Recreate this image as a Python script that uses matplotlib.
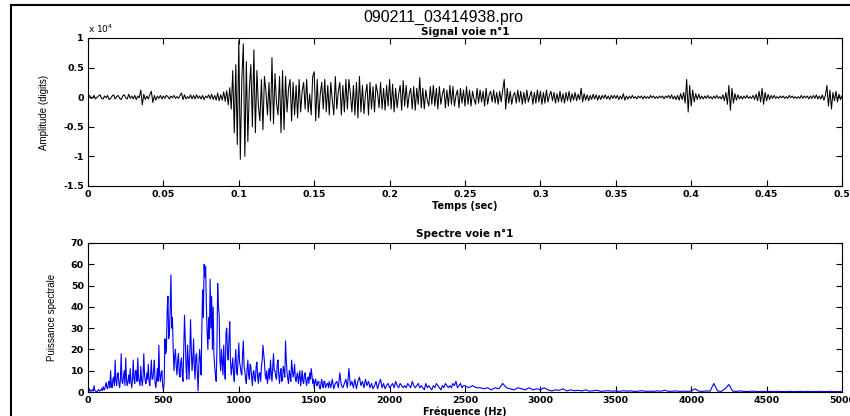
import numpy as np
import matplotlib
matplotlib.use("Agg")
import matplotlib.pyplot as plt
from matplotlib.ticker import FuncFormatter
from matplotlib.lines import Line2D

# signal, 1 ms per sample, in hundreds of digits (1 unit = 100 digits)
signal_units = [
    1, 3, -2, -1, 3, -3, 0, 2, 4, -2,
    -3, 2, -1, 3, -4, -2, 2, 4, -3, 1,
    3, -2, -4, 2, 4, -1, -3, 5, -2, 2,
    -3, 3, -4, 2, -1, 12, -13, 5, -4, 2,
    -3, 4, 10, -9, 3, -5, 2, -2, 3, -3,
    2, -2, 3, 1, -3, 2, -1, 3, -2, 1,
    -2, 3, 7, -4, 4, -3, 1, -2, 4, -3,
    3, -3, 4, -2, 2, -3, 3, -4, 2, -1,
    4, -3, 5, -4, 3, -5, 7, -6, 4, -5,
    9, -7, 11, -13, 16, -20, 45, -60, 55, -80,
    95, -105, 30, 90, -100, 60, -75, 15, 55, -50,
    80, -60, 45, -15, -40, 30, -55, 35, 10, -30,
    25, -40, 67, -45, 40, -10, -30, 35, -60, 45,
    -55, 35, -25, 15, 30, -40, 25, -30, 20, -35,
    30, -25, 10, 25, -20, 30, -25, 5, -30, 35,
    43, -40, 30, -35, 5, 25, -20, 30, -25, 20,
    -30, 25, -5, -30, 35, -20, 10, 25, -30, 20,
    -25, 30, -20, 30, 5, -25, 20, -30, 25, -35,
    35, -25, 20, -28, 5, 22, -30, 25, -20, 18,
    -25, 22, 8, -18, 25, -20, 15, -22, 20, -15,
    30, -20, 22, -25, 15, -18, 5, 20, -22, 28,
    -15, 20, -18, 5, 15, -20, 18, -22, 15, -12,
    33, -18, 15, -20, 12, -5, -15, 18, -12, 20,
    -15, 15, -20, 18, -12, 5, 15, -18, 12, -15,
    20, -12, 18, -15, 3, 12, -18, 15, -10, 12,
    -15, 18, -12, 12, -15, 10, -3, -12, 15, -10,
    12, -8, 10, -15, 15, -12, 4, 10, -8, 12,
    -10, 8, -12, 10, -8, 12, 30, -20, 15, -10,
    10, -12, 3, 8, -10, 12, -8, 10, -12, 8,
    -10, 12, -8, 2, 10, -12, 8, -10, 12, -8,
    10, -12, 8, -10, 12, -8, 3, 10, -6, 8,
    -10, 6, -8, 10, -8, 6, -10, 8, -6, 10,
    -8, 6, -5, 8, -6, 5, -4, 15, -8, 6,
    -5, 4, -6, 3, -4, 5, -3, 4, -5, 3,
    -4, 3, -2, 4, -3, 2, -4, 3, -2, 3,
    -2, 3, -4, 2, -3, 6, -5, 2, -3, 2,
    -2, 3, -2, 1, -3, 2, -1, 2, -3, 2,
    -2, 1, -2, 3, -1, 2, -2, 1, -2, 2,
    -1, 2, -3, 2, -1, 3, -2, 4, -3, 2,
    -4, 3, -5, 6, -4, 8, -10, 30, -25, 20,
    -15, 12, -8, 6, -4, 5, -3, 2, -3, 2,
    -2, 3, -2, 1, -3, 2, -2, 3, -2, 1,
    -3, 4, -6, 8, -12, 20, -22, 15, -10, 6,
    -5, 4, -3, 2, -3, 2, -2, 3, -2, 1,
    -2, 3, -4, 5, -6, 10, -8, 15, -12, 8,
    -6, 5, -4, 3, -2, 3, -2, 1, -2, 2,
    -1, 2, -2, 1, -2, 3, -1, 2, -2, 1,
    -2, 1, -2, 3, -2, 2, -1, 2, -3, 2,
    -2, 3, -2, 4, -3, 2, -3, 4, -5, 3,
    20, -15, 12, -20, 8, -6, 10, -8, 5, -4,
    3,
]

# power spectrum, 5 Hz steps from 0 to 1595 Hz
spec_fine = [
    0.5, 0.3, 1.5, 0.6, 0.3, 0.8, 1.0, 0.4, 3.0, 0.8, 0.4, 0.3, 0.3, 0.6, 1.2, 0.5, 0.5, 1.0, 1.5, 0.6,
    2.5, 1.2, 1, 3, 4.5, 2, 1.5, 4, 5, 2, 10, 3, 2, 6, 7, 3, 15, 5, 3, 8,
    9, 4, 2, 6, 18, 5, 4, 7, 10, 3, 16, 6, 3, 5, 8, 4, 11, 5, 2, 6,
    15, 6, 4, 10, 10, 5, 16, 7, 5, 3, 12, 6, 3, 7, 18, 8, 5, 4, 9, 6,
    13, 5, 3, 8, 15, 6, 6, 10, 15, 4, 2, 6, 11, 5, 22, 8, 5, 9, 10, 3,
    1, 4, 25, 18, 20, 38, 45, 25, 27, 40, 55, 30, 35, 20, 10, 17, 20, 12, 8, 15,
    18, 9, 7, 14, 16, 8, 5, 20, 36, 25, 12, 6, 22, 15, 6, 18, 34, 20, 10, 15,
    25, 12, 6, 17, 18, 9, 0.5, 12, 20, 15, 8, 30, 48, 35, 60, 54, 59, 40, 28, 20,
    35, 25, 53, 30, 45, 20, 40, 18, 12, 8, 5, 20, 51, 40, 36, 15, 10, 20, 14, 8,
    22, 12, 6, 28, 30, 18, 15, 25, 33, 14, 8, 12, 16, 9, 5, 14, 20, 10, 8, 15,
    23, 14, 12, 9, 8, 18, 24, 12, 10, 6, 4, 11, 15, 8, 6, 13, 12, 7, 3, 9,
    10, 6, 5, 12, 14, 7, 4, 9, 9, 5, 12, 15, 22, 18, 14, 8, 6, 10, 4, 7,
    11, 6, 15, 9, 5, 12, 18, 10, 10, 7, 6, 13, 15, 8, 4, 9, 11, 5, 6, 12,
    10, 7, 24, 15, 9, 6, 4, 10, 8, 5, 15, 11, 7, 9, 13, 6, 5, 8, 9, 4,
    7, 10, 3, 6, 10, 5, 4, 8, 9, 5, 3, 6, 7, 4, 9, 6, 11, 8, 4, 6,
    2, 5, 6, 3, 3, 5, 5, 2, 1.5, 4, 6, 3, 2, 5, 5, 2, 3, 4, 4, 2,
]

# power spectrum, 10 Hz steps from 1600 to 2490 Hz
spec_mid = [
    5, 2, 6, 1.5, 4, 5, 2, 9, 3, 2,
    4, 6, 2, 11, 3, 5, 2, 6, 1.5, 5,
    7, 3, 5, 2, 6, 3, 5, 2, 4, 1.5,
    3, 5, 1.5, 4, 6, 2, 4, 1.5, 3, 4,
    2, 3, 4, 2, 5, 3, 2, 4, 3, 2,
    3, 2, 4, 3, 2, 5, 3, 2, 3, 4,
    2, 3, 2, 1, 4, 2, 3, 2, 1, 3,
    2, 4, 3, 2, 1, 3, 2, 4, 3, 2,
    3, 2, 4, 3, 5, 2, 3, 4, 2, 3,
]

# power spectrum, 25 Hz steps from 2500 to 5000 Hz
spec_high = [
    3, 2, 3, 2, 2, 1.5, 2, 1, 2, 1.5,
    4, 2, 1.5, 1, 2, 1.5, 1, 2, 1, 1.5,
    1, 2, 1, 0.5, 1, 0.8, 1.5, 0.5, 1, 0.6,
    0.8, 0.5, 1, 0.4, 0.6, 0.8, 0.3, 0.5, 0.6, 0.4,
    0.5, 0.3, 0.6, 0.4, 0.5, 0.3, 0.4, 0.6, 0.3, 0.4,
    0.3, 0.5, 0.4, 0.8, 0.3, 0.4, 0.5, 0.3, 0.4, 0.3,
    0.5, 1.5, 0.4, 0.3, 0.5, 0.4, 4, 0.5, 0.3, 1.5,
    3.5, 0.4, 0.3, 0.5, 0.3, 0.2, 0.4, 0.3, 0.2, 0.3,
    0.2, 0.3, 0.2, 0.3, 0.2, 0.2, 0.3, 0.2, 0.2, 0.3,
    0.2, 0.3, 0.2, 0.2, 0.3, 0.2, 0.2, 0.3, 0.2, 0.2,
    0.2,
]

signal = np.array(signal_units) * 100.0
t = np.arange(len(signal)) * 0.001
freq = np.concatenate([np.arange(len(spec_fine)) * 5.0,
                       1600 + np.arange(len(spec_mid)) * 10.0,
                       2500 + np.arange(len(spec_high)) * 25.0])
power = np.array(spec_fine + spec_mid + spec_high)

W, H = 850, 416
fig = plt.figure(figsize=(W / 100, H / 100), dpi=100)

g = FuncFormatter(lambda v, p: "%g" % v)


def style(ax):
    ax.tick_params(direction="in", top=True, right=True, length=4, width=0.8,
                   pad=3, labelsize=6.8)
    for lab in ax.get_xticklabels() + ax.get_yticklabels():
        lab.set_fontfamily("DejaVu Sans")
        lab.set_fontweight("bold")
    for s in ax.spines.values():
        s.set_linewidth(0.8)


# signal
ax1 = fig.add_axes([88 / W, 1 - 186 / H, 754 / W, 148 / H])
ax1.plot(t, signal / 1e4, color="black", lw=0.75)
ax1.set_xlim(0, 0.5)
ax1.set_ylim(-1.5, 1)
ax1.set_xticks(np.arange(0, 0.501, 0.05))
ax1.set_yticks([-1.5, -1, -0.5, 0, 0.5, 1])
ax1.xaxis.set_major_formatter(g)
ax1.yaxis.set_major_formatter(g)
style(ax1)
ax1.text(0, 1.02, "x 10$^{4}$", transform=ax1.transAxes, fontsize=6.5,
         family="DejaVu Sans", va="bottom", ha="left")
ax1.set_title("Signal voie n°1", fontsize=7.5, fontweight="bold",
              family="DejaVu Sans", pad=2)
ax1.set_xlabel("Temps (sec)", fontsize=7, fontweight="bold",
               family="DejaVu Sans", labelpad=1)
ax1.set_ylabel("Amplitude (digits)", fontsize=7, family="Liberation Sans",
               labelpad=10)

# spectrum
ax2 = fig.add_axes([88 / W, 1 - 392 / H, 754 / W, 149 / H])
ax2.plot(freq, power, color="#0000ff", lw=0.8)
ax2.set_xlim(0, 5000)
ax2.set_ylim(0, 70)
ax2.set_xticks(np.arange(0, 5001, 500))
ax2.set_yticks(np.arange(0, 71, 10))
ax2.xaxis.set_major_formatter(g)
ax2.yaxis.set_major_formatter(g)
style(ax2)
ax2.set_title("Spectre voie n°1", fontsize=7.5, fontweight="bold",
              family="DejaVu Sans", pad=4)
ax2.set_xlabel("Fréquence (Hz)", fontsize=7, fontweight="bold",
               family="DejaVu Sans", labelpad=1)
ax2.set_ylabel("Puissance spectrale", fontsize=7, family="Liberation Sans",
               labelpad=10)

fig.text(443 / W, 1 - 17 / H, "090211_03414938.pro", fontsize=11.5,
         family="Liberation Sans", ha="center", va="center")

# window frame
fig.add_artist(Line2D([10.5 / W, 10.5 / W], [0, 1 - 5 / H], color="black",
                      lw=1.5, transform=fig.transFigure))
fig.add_artist(Line2D([10.5 / W, 1], [1 - 5 / H, 1 - 5 / H], color="black",
                      lw=1.5, transform=fig.transFigure))

fig.savefig("out.png", dpi=100)
